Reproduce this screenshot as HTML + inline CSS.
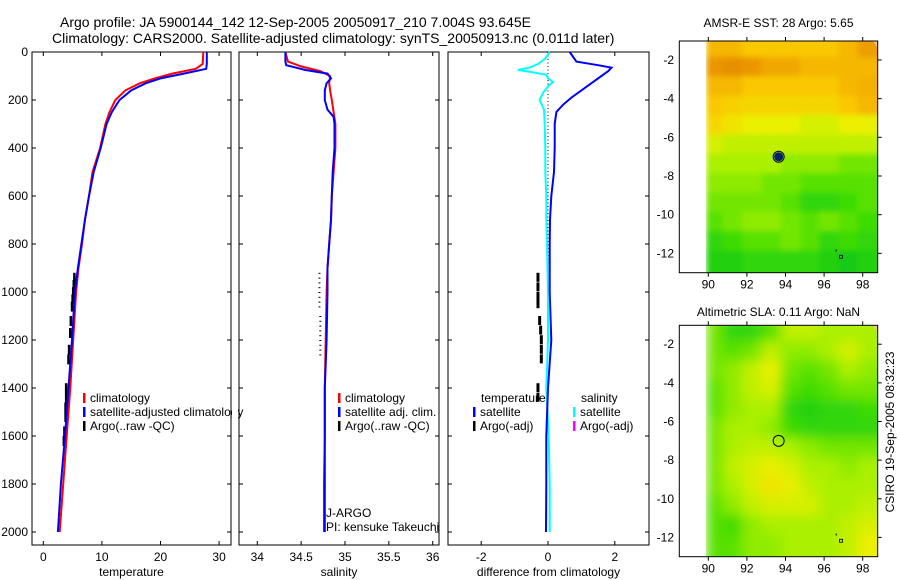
<!DOCTYPE html>
<html><head><meta charset="utf-8">
<style>
body{margin:0;background:#fff;}
svg{display:block;font-family:"Liberation Sans",sans-serif;}
text{fill:#000;}
</style></head>
<body>
<svg id="fig" width="900" height="580" viewBox="0 0 900 580">
<text x="60" y="27" font-size="14">Argo profile: JA 5900144_142 12-Sep-2005 20050917_210 7.004S 93.645E</text>
<text x="52" y="43" font-size="14">Climatology: CARS2000. Satellite-adjusted climatology: synTS_20050913.nc (0.011d later)</text>
</svg>
<script>
// ---- data ----
const tempDepth=[0,50,70,90,110,130,160,200,250,300,400,500,600,700,800,900,1000,1200,1400,1600,1800,2000];
const tempClim=[27.3,27.2,26,22,19,16.5,14,12.3,11.3,10.6,9.7,8.4,7.8,7.1,6.6,6.0,5.6,5.1,4.6,4.0,3.4,2.8];
const tempSat=[27.9,27.9,27.8,24,20,17.5,15,13,11.7,10.8,9.8,8.6,7.8,7.1,6.5,5.9,5.4,4.9,4.3,3.7,3.0,2.5];
const argoTDepth=[920,950,980,1010,1040,1100,1150,1220,1260,1380,1420,1460,1500,1560,1600];
const argoT=[5.3,5.2,5.1,5.0,4.9,4.7,4.6,4.4,4.3,3.9,3.9,3.8,3.8,3.6,3.5];
const salDepth=[0,40,60,80,100,130,160,200,250,300,400,500,600,700,800,900,1000,1200,1400,1600,1800,2000];
const salClim=[34.32,34.35,34.5,34.72,34.83,34.82,34.83,34.85,34.87,34.89,34.89,34.87,34.85,34.84,34.82,34.8,34.79,34.78,34.77,34.77,34.76,34.76];
const salSatDepth=[0,40,55,75,90,110,130,160,200,240,270,300,400,500,600,700,800,900,1000,1200,1400,1600,1800,2000];
const salSat=[34.32,34.32,34.33,34.55,34.8,34.84,34.79,34.77,34.77,34.8,34.87,34.88,34.88,34.86,34.85,34.84,34.82,34.8,34.8,34.79,34.77,34.77,34.77,34.77];
const argoSDepth=[920,940,960,980,1000,1020,1040,1060,1100,1120,1140,1160,1180,1200,1220,1240,1260];
const argoS=[34.72,34.72,34.72,34.72,34.72,34.72,34.72,34.72,34.73,34.73,34.73,34.73,34.73,34.73,34.73,34.73,34.73];
const dTDepth=[0,40,55,65,80,100,130,160,190,220,250,300,400,500,600,700,800,1000,1200,1400,1600,1800,2000];
const dTSat=[0.65,0.85,1.5,1.9,1.8,1.6,1.3,1.0,0.7,0.45,0.25,0.2,0.2,0.18,0.1,0.06,0.05,0.05,0.1,0.0,-0.05,-0.05,-0.06];
const dSDepth=[0,30,50,65,75,85,95,110,125,140,170,200,240,300,400,500,600,700,800,1000,1200,1400,1600,1800,2000];
const dSSat=[0.05,-0.1,-0.3,-0.55,-0.9,-0.45,-0.05,0.0,0.15,0.02,-0.15,-0.25,-0.12,-0.1,-0.08,-0.08,-0.05,-0.05,-0.03,0.0,0.0,-0.05,0.02,0.05,0.05];
const argoDDepth=[920,960,1000,1030,1100,1140,1180,1220,1260,1380,1420];
const argoD=[-0.3,-0.3,-0.3,-0.3,-0.25,-0.22,-0.2,-0.2,-0.2,-0.3,-0.3];
const depthTicks=[0,200,400,600,800,1000,1200,1400,1600,1800,2000];
const tempTicks=[0,10,20,30];
const salTicks=[34,34.5,35,35.5,36];
const salTickLabels=["34","34.5","35","35.5","36"];
const diffTicks=[-2,0,2];
const lonTicks=[90,92,94,96,98];
const latTicks=[-2,-4,-6,-8,-10,-12];
const mapLons=[89.9,90.9,91.9,92.9,93.9,94.9,95.9,96.9,97.9];
const mapLats=[-1,-2,-3,-4,-5,-6,-7,-8,-9,-10,-11,-12];
const sstGrid=[
[0.8,0.8,0.75,0.75,0.75,0.75,0.75,0.8,0.88],
[0.9,0.92,0.9,0.85,0.85,0.8,0.8,0.8,0.8],
[0.8,0.8,0.75,0.75,0.75,0.75,0.75,0.8,0.82],
[0.75,0.72,0.7,0.7,0.7,0.7,0.7,0.75,0.8],
[0.7,0.65,0.6,0.6,0.6,0.55,0.55,0.6,0.6],
[0.55,0.5,0.5,0.5,0.5,0.5,0.5,0.5,0.5],
[0.45,0.45,0.45,0.45,0.4,0.4,0.4,0.35,0.35],
[0.4,0.4,0.4,0.35,0.35,0.3,0.3,0.3,0.3],
[0.35,0.35,0.35,0.35,0.3,0.2,0.2,0.25,0.3],
[0.3,0.35,0.4,0.4,0.35,0.3,0.35,0.3,0.25],
[0.2,0.25,0.3,0.3,0.35,0.3,0.2,0.25,0.2],
[0.15,0.15,0.2,0.2,0.2,0.2,0.15,0.1,0.15]];
const slaGrid=[
[0.35,0.2,0.2,0.3,0.5,0.5,0.45,0.45,0.45],
[0.35,0.3,0.35,0.5,0.4,0.4,0.45,0.55,0.45],
[0.35,0.4,0.5,0.6,0.35,0.3,0.35,0.45,0.4],
[0.3,0.4,0.5,0.55,0.3,0.25,0.3,0.35,0.35],
[0.3,0.4,0.45,0.45,0.2,0.15,0.2,0.2,0.25],
[0.35,0.45,0.45,0.4,0.25,0.2,0.2,0.2,0.2],
[0.35,0.45,0.5,0.5,0.45,0.4,0.35,0.35,0.35],
[0.35,0.5,0.55,0.6,0.55,0.45,0.45,0.4,0.45],
[0.35,0.45,0.55,0.65,0.6,0.5,0.45,0.45,0.45],
[0.3,0.4,0.5,0.55,0.55,0.55,0.45,0.45,0.5],
[0.3,0.25,0.4,0.45,0.45,0.45,0.45,0.5,0.55],
[0.3,0.3,0.4,0.4,0.45,0.45,0.45,0.5,0.6]];
const argoLon=93.645, argoLat=-7.004;

// ---- helpers ----
const NS="http://www.w3.org/2000/svg";
const svg=document.getElementById('fig');
function el(tag,attrs,parent){const e=document.createElementNS(NS,tag);for(const k in attrs)e.setAttribute(k,attrs[k]);(parent||svg).appendChild(e);return e;}
function txt(x,y,s,size,anchor,parent){const t=el('text',{x:x,y:y,'font-size':size,'text-anchor':anchor||'start'},parent);t.textContent=s;return t;}
const yD=d=>52+d*0.24;
function panel(name,x0,x1,xs,ticks,labels,xlabel){
  const g=el('g',{});
  
  
  const r=el('rect',{x:x0,y:52,width:x1-x0,height:493,fill:'none',stroke:'#000','stroke-width':1},g);
  
  
  ticks.forEach((v,i)=>{const x=xs(v);
    el('line',{x1:x,x2:x,y1:545,y2:541,stroke:'#000'},g);el('line',{x1:x,x2:x,y1:52,y2:56,stroke:'#000'},g);
    const t=txt(x,561,labels[i],12,'middle',g);
    
    });
  depthTicks.forEach(d=>{const y=yD(d);el('line',{x1:x0,x2:x0+4,y1:y,y2:y,stroke:'#000'},g);el('line',{x1:x1,x2:x1-4,y1:y,y2:y,stroke:'#000'},g);});
  const xl=txt((x0+x1)/2,576,xlabel,12,'middle',g);
  
  
  return g;
}
function line(g,xs,vals,depths,color,w,name){
  const pts=vals.map((v,i)=>xs(v).toFixed(1)+','+yD(depths[i]).toFixed(1)).join(' ');
  const p=el('polyline',{points:pts,fill:'none',stroke:color,'stroke-width':w},g);
  
  
}
function dashes(g,xs,vals,depths,color,w,len,name){
  vals.forEach((v,i)=>{const y=yD(depths[i]);const l=el('line',{x1:xs(v),x2:xs(v),y1:y,y2:y+len,stroke:color,'stroke-width':w},g);
    
    });
}
function legend(g,x,y,color,label){
  const m=el('rect',{x:x,y:y-9,width:2.5,height:10,fill:color},g);
  
  
  const t=txt(x+7,y,label,12,'start',g);
  
  
}

// ---- panel 1: temperature ----
const xT=v=>43.3+v*5.86;
const g1=panel('temperature-panel',32,231,xT,tempTicks,tempTicks.map(String),'temperature');
depthTicks.forEach(d=>{const t=txt(28,yD(d)+4,String(d),12,'end',g1);
  
  });
dashes(g1,xT,argoT,argoTDepth,'#000',2.5,10,'argo-temperature');
line(g1,xT,tempClim,tempDepth,'#f00',2,'climatology-temperature-line');
line(g1,xT,tempSat,tempDepth,'#00f',2,'satellite-temperature-line');
legend(g1,83,402,'#f00','climatology');
legend(g1,83,416,'#00f','satellite-adjusted climatology');
legend(g1,83,430,'#000','Argo(..raw -QC)');
el('rect',{x:232,y:404,width:6,height:16,fill:'#fff'},svg);

// ---- panel 2: salinity ----
const xS=v=>257.3+(v-34)*87.7;
const g2=panel('salinity-panel',239,439,xS,salTicks,salTickLabels,'salinity');
argoSDepth.forEach((d,i)=>{const r=el('rect',{x:xS(argoS[i])-2,y:yD(d),width:2,height:1,fill:'#000'},g2);
  
  });
line(g2,xS,salClim,salDepth,'#f00',2,'climatology-salinity-line');
line(g2,xS,salSat,salSatDepth,'#00f',2,'satellite-salinity-line');
legend(g2,338,402,'#f00','climatology');
legend(g2,338,416,'#00f','satellite adj. clim.');
legend(g2,338,430,'#000','Argo(..raw -QC)');
let t1=txt(326,517,'J-ARGO',12,'start',g2);
let t2=txt(326,531,'PI: kensuke Takeuchi',12,'start',g2);

// ---- panel 3: difference ----
const xDf=v=>548+v*33.4;
const g3=panel('difference-panel',448,649,xDf,diffTicks,diffTicks.map(String),'difference from climatology');
const z=el('line',{x1:xDf(0),x2:xDf(0),y1:yD(0),y2:yD(1000),stroke:'#000','stroke-dasharray':'1,2.5'},g3);


dashes(g3,xDf,argoD,argoDDepth,'#000',3,9,'argo-difference');
line(g3,xDf,dSSat,dSDepth,'#0ff',2,'salinity-difference-line');
line(g3,xDf,dTSat,dTDepth,'#00f',2,'temperature-difference-line');
let lt=txt(481,402,'temperature',12,'start',g3);
let ls=txt(581,402,'salinity',12,'start',g3);
legend(g3,473,416,'#00f','satellite');
legend(g3,473,430,'#000','Argo(-adj)');
legend(g3,573,416,'#0ff','satellite');
legend(g3,573,430,'#f0f','Argo(-adj)');

// ---- maps ----
function cmap(v){
  const stops=[[0,[0,190,40]],[0.25,[60,220,0]],[0.45,[170,240,0]],[0.6,[235,240,0]],[0.75,[250,200,0]],[0.9,[235,150,0]],[1,[215,115,0]]];
  for(let i=1;i<stops.length;i++){if(v<=stops[i][0]){const a=stops[i-1],b=stops[i];const f=(v-a[0])/(b[0]-a[0]);
    const c=a[1].map((x,k)=>Math.round(x+(b[1][k]-x)*f));return 'rgb('+c.join(',')+')';}}
  return 'rgb(215,115,0)';
}
function map(name,top,bot,grid,title,titleY,filled){
  const L=679.3,R=877.7;
  const xs=v=>708.3+(v-90)*19.3;
  const yc=(bot-top)/(-13-(-1.02));
  const ys=v=>top+(v-(-1.02))*yc;
  const g=el('g',{});
  
  
  const tt=txt((L+R)/2,titleY,title,12,'middle',g);
  
  
  const cid=name+'-clip';
  const cp=el('clipPath',{id:cid},g);el('rect',{x:706,y:top,width:R-706,height:bot-top},cp);
  const fid=name+'-blur';
  const f=el('filter',{id:fid,x:'-10%',y:'-10%',width:'120%',height:'120%'},g);el('feGaussianBlur',{stdDeviation:filled?3:6},f);
  const cg=el('g',{'clip-path':'url(#'+cid+')'},g);
  const bg=el('g',{filter:'url(#'+fid+')'},cg);
  grid.forEach((row,i)=>row.forEach((v,j)=>{
    const x=xs(mapLons[j]),y=ys(mapLats[i]);
    const c=el('rect',{x:x-(j==0?0:3),y:y-(i==0?8:3),width:19.3+(j==0?3:6)+(j==8?8:0),height:Math.abs(yc)+(i==0?11:6)+(i==11?10:0),fill:cmap(v)},bg);
    
    
  }));
  el('rect',{x:679,y:top,width:27,height:bot-top,fill:'#fff'},g);
  const pk=el('path',{d:`M${R-5},${top} L${R},${top} L${R},${top+7} Z`,fill:'#f4c090'},g);
  
  
  const fr=el('rect',{x:L,y:top,width:R-L,height:bot-top,fill:'none',stroke:'#000'},g);
  
  
  lonTicks.forEach(v=>{const x=xs(v);el('line',{x1:x,x2:x,y1:bot,y2:bot+4,stroke:'#000'},g);el('line',{x1:x,x2:x,y1:top,y2:top-4,stroke:'#000'},g);
    const t=txt(x,bot+16,String(v),12,'middle',g);});
  latTicks.forEach(v=>{const y=ys(v);el('line',{x1:R,x2:R+4,y1:y,y2:y,stroke:'#000'},g);
    const t=txt(674,y+4,String(v),12,'end',g);});
  const cx=xs(argoLon),cy=ys(argoLat);
  if(filled){const d=el('circle',{cx:cx,cy:cy,r:4.5,fill:'#00206a'},g);}
  const c=el('circle',{cx:cx,cy:cy,r:5.5,fill:'none',stroke:'#000','stroke-width':1},g);
  
  
  el('rect',{x:xs(96.85)-1,y:ys(-12.15)-1,width:3,height:3,fill:'none',stroke:'#000','stroke-width':0.8},g);
  el('rect',{x:xs(96.6),y:ys(-11.8),width:1,height:2,fill:'#000'},g);
}
map('sst-map',41,272.7,sstGrid,'AMSR-E SST: 28 Argo: 5.65',27,true);
map('sla-map',325.3,556.7,slaGrid,'Altimetric SLA: 0.11 Argo: NaN',316,false);
const cs=txt(0,0,'CSIRO 19-Sep-2005 08:32:23',12,'middle');
cs.setAttribute('transform','translate(894,432) rotate(-90)');


</script>
</body></html>
